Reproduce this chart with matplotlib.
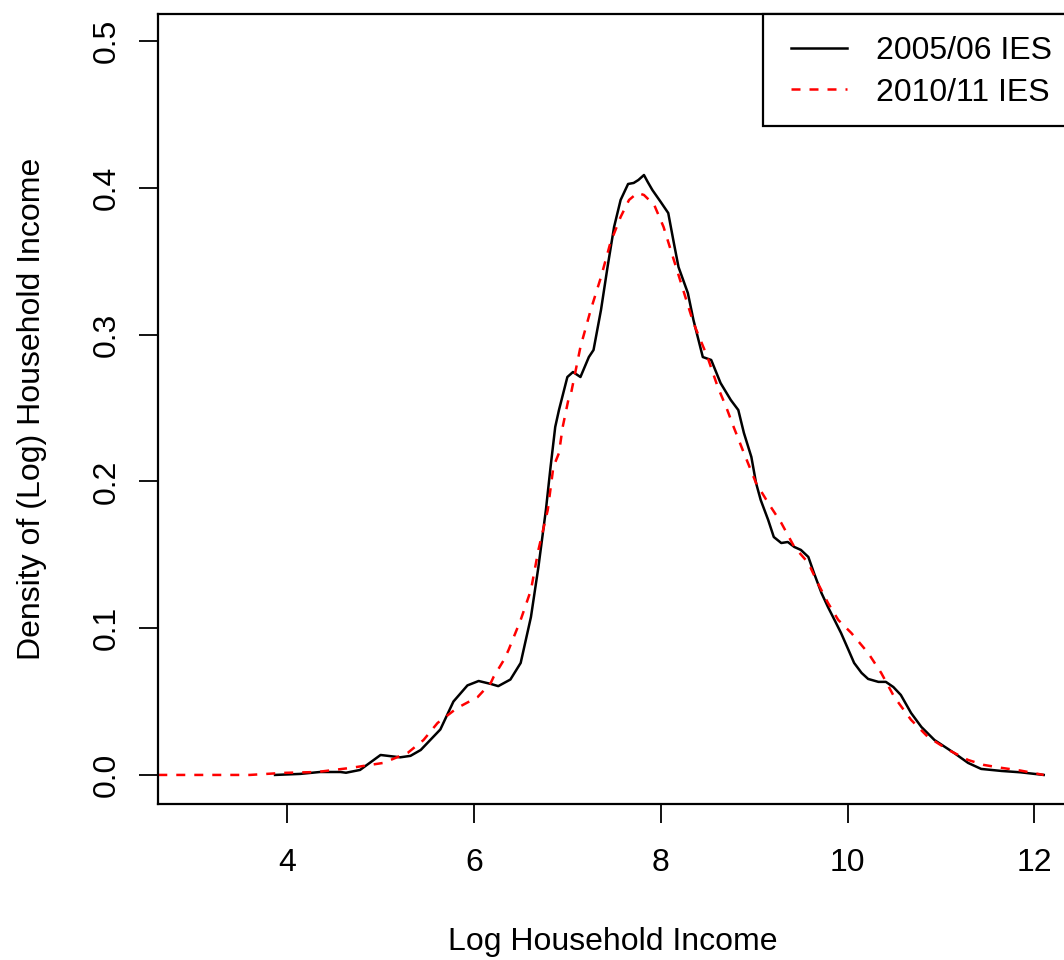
import numpy as np
import matplotlib
matplotlib.use("Agg")
import matplotlib.pyplot as plt
from matplotlib.patches import Rectangle

plt.rcParams['font.family'] = ['Liberation Sans', 'DejaVu Sans']

# 2005/06 IES density curve
x0506 = [3.87, 4.14, 4.35, 4.57, 4.63, 4.78, 5.0, 5.21, 5.32, 5.43, 5.64, 5.78, 5.93,
         6.05, 6.18, 6.26, 6.39, 6.50, 6.61, 6.69, 6.77, 6.82, 6.87, 6.91, 7.00,
         7.06, 7.14, 7.23, 7.28, 7.36, 7.43, 7.50, 7.57, 7.65, 7.71, 7.76, 7.82,
         7.86, 7.91, 8.00, 8.08, 8.14, 8.19, 8.29, 8.35, 8.45, 8.54, 8.64, 8.75,
         8.83, 8.89, 8.97, 9.02, 9.07, 9.15, 9.21, 9.29, 9.36, 9.43, 9.50, 9.58,
         9.64, 9.72, 9.79, 9.86, 9.93, 10.01, 10.07, 10.15, 10.22, 10.33, 10.41,
         10.49, 10.57, 10.68, 10.79, 10.93, 11.14, 11.29, 11.43, 11.65, 11.85, 12.1]
y0506 = [0.0, 0.0007, 0.002, 0.002, 0.0015, 0.0034, 0.0136, 0.012, 0.013, 0.017, 0.031,
         0.050, 0.061, 0.064, 0.062, 0.0605, 0.065, 0.0763, 0.1076, 0.1417, 0.1805,
         0.2098, 0.2371, 0.2486, 0.2711, 0.2745, 0.2711, 0.2847, 0.2895, 0.3168,
         0.3460, 0.3733, 0.3917, 0.4026, 0.4033, 0.4053, 0.4087, 0.4040, 0.3985,
         0.3903, 0.3828, 0.3624, 0.3460, 0.3283, 0.3099, 0.2847, 0.2827, 0.2670,
         0.2554, 0.2486, 0.2330, 0.2166, 0.1989, 0.1873, 0.1737, 0.1621, 0.1580,
         0.1587, 0.1553, 0.1533, 0.1485, 0.1376, 0.1240, 0.1144, 0.1056, 0.0967,
         0.0851, 0.0763, 0.0695, 0.0654, 0.0634, 0.0634, 0.0599, 0.0545, 0.0422,
         0.0327, 0.0238, 0.0150, 0.0082, 0.0041, 0.0027, 0.0018, 0.0]

# 2010/11 IES density curve
x1011 = [2.62, 3.60, 3.96, 4.32, 4.68, 5.03, 5.29, 5.46, 5.61, 5.82, 6.04, 6.18,
         6.21, 6.32, 6.37, 6.50, 6.61, 6.69, 6.79, 6.85, 6.91, 6.95, 7.01, 7.04,
         7.14, 7.25, 7.36, 7.46, 7.57, 7.66, 7.75, 7.82, 7.93, 8.03, 8.14, 8.25,
         8.35, 8.50, 8.61, 8.70, 8.78, 8.89, 9.02, 9.15, 9.29, 9.43, 9.58, 9.68,
         9.79, 9.90, 10.04, 10.22, 10.36, 10.50, 10.68, 10.86, 11.08, 11.29, 11.46,
         11.65, 11.85, 12.1]
y1011 = [0.0, 0.0, 0.0014, 0.002, 0.0048, 0.0082, 0.0150, 0.0238, 0.0354, 0.0456,
         0.0531, 0.0627, 0.0668, 0.0783, 0.0851, 0.1056, 0.1260, 0.1533, 0.1805,
         0.2098, 0.2193, 0.2371, 0.2554, 0.2602, 0.2916, 0.3168, 0.3392, 0.3624,
         0.3801, 0.3917, 0.3965, 0.3951, 0.3883, 0.3733, 0.3508, 0.3283, 0.3079,
         0.2847, 0.2643, 0.2507, 0.2371, 0.2193, 0.1989, 0.1853, 0.1717, 0.1553,
         0.1444, 0.1308, 0.1172, 0.1056, 0.0967, 0.0831, 0.0695, 0.0531, 0.0375,
         0.0259, 0.0170, 0.0102, 0.0068, 0.0048, 0.003, 0.0]

xticks = [4, 6, 8, 10, 12]
yticks = [0.0, 0.1, 0.2, 0.3, 0.4, 0.5]
ytick_labels = ["0.0", "0.1", "0.2", "0.3", "0.4", "0.5"]

fig = plt.figure(figsize=(10.64, 9.6), dpi=100)
ax = fig.add_axes([158 / 1064, 1 - 804 / 960, 910 / 1064, 790 / 960])

ax.plot(x0506, y0506, color='black', lw=1.8, solid_joinstyle='round', label='2005/06 IES')
ax.plot(x1011, y1011, color='red', lw=1.8, ls=(0, (3.6, 3.6)), label='2010/11 IES')

ax.set_xlim(2.617, 12.36)
ax.set_ylim(-0.0198, 0.5184)
ax.set_xticks(xticks)
ax.set_yticks(yticks)
ax.set_yticklabels(ytick_labels, rotation=90, va='center')
ax.tick_params(axis='both', direction='out', length=14, width=1.3, labelsize=23, pad=18)
ax.tick_params(axis='y', pad=12)
for s in ax.spines.values():
    s.set_linewidth(1.6)

ax.set_xlabel('Log Household Income', fontsize=23, labelpad=35)
ax.set_ylabel('Density of (Log) Household Income', fontsize=23, labelpad=32)

# legend box in the R style: flush with the top right corner of the plot
ax.add_patch(Rectangle((0.6648, 0.8582), 0.40, 1 - 0.8582, transform=ax.transAxes,
                       facecolor='white', edgecolor='black', lw=1.6,
                       clip_on=False, zorder=4))
leg = ax.legend(loc='upper left', bbox_to_anchor=(0.6956, 0.9721), fontsize=23,
                frameon=False, borderaxespad=0, borderpad=0,
                handlelength=1.75, handletextpad=0.9, labelspacing=0.36)
leg.set_zorder(5)

fig.savefig('out.png', dpi=100)
